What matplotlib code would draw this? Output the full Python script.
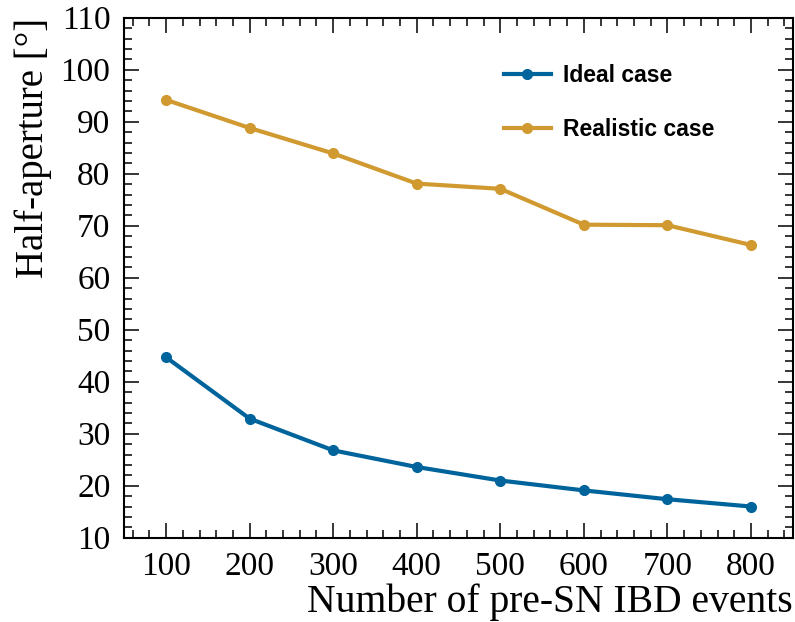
import matplotlib
matplotlib.use("Agg")
import matplotlib.pyplot as plt
from matplotlib.ticker import MultipleLocator

# values
n_events = [100, 200, 300, 400, 500, 600, 700, 800]
ideal = [44.7, 32.9, 26.8, 23.6, 21.0, 19.1, 17.4, 16.0]
realistic = [94.2, 88.8, 83.9, 78.1, 77.1, 70.2, 70.1, 66.3]

plt.rcParams['font.family'] = ['Liberation Serif', 'DejaVu Serif']

fig = plt.figure(figsize=(7.95, 6.22), dpi=100)
ax = fig.add_axes([0.1564, 0.1355, 0.8407, 0.836])

ax.plot(n_events, ideal, color='#00649c', lw=3, marker='o', ms=7,
        label='Ideal case')
ax.plot(n_events, realistic, color='#d09a30', lw=3, marker='o', ms=7,
        label='Realistic case')

ax.set_xlim(50, 850)
ax.set_ylim(10, 110)
ax.xaxis.set_major_locator(MultipleLocator(100))
ax.xaxis.set_minor_locator(MultipleLocator(20))
ax.yaxis.set_major_locator(MultipleLocator(10))
ax.yaxis.set_minor_locator(MultipleLocator(2))

ax.tick_params(which='both', direction='in', top=True, right=True,
               labelsize=24, width=1.1)
ax.tick_params(axis='x', which='both', pad=10)
ax.tick_params(axis='y', which='both', pad=10)
ax.tick_params(which='major', length=11)
ax.tick_params(which='minor', length=5.5)
for s in ax.spines.values():
    s.set_linewidth(1.5)

ax.set_xlabel('Number of pre-SN IBD events', fontsize=28.5, loc='right',
              labelpad=1)
ax.set_ylabel('Half-aperture [°]', fontsize=28, loc='top', labelpad=6)

ax.legend(loc='upper right', bbox_to_anchor=(0.914, 0.95), frameon=False,
          prop={'family': 'Liberation Sans', 'weight': 'bold', 'size': 16.5},
          handlelength=2.05, labelspacing=1.35, handletextpad=0.55)

fig.savefig('out.png', dpi=100)
